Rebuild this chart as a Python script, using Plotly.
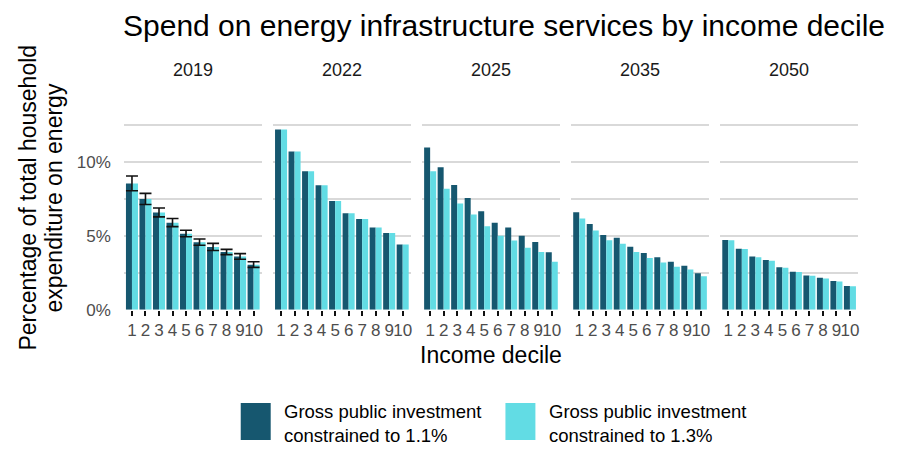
import plotly.graph_objects as go

# Household spend on energy infrastructure services, share of total energy expenditure (%)
years = ["2019", "2022", "2025", "2035", "2050"]
deciles = [1, 2, 3, 4, 5, 6, 7, 8, 9, 10]
decile_labels = ["1", "2", "3", "4", "5", "6", "7", "8", "9", "10"]

series_names = [
    "Gross public investment<br>constrained to 1.1%",
    "Gross public investment<br>constrained to 1.3%",
]

invest_11 = {
    "2019": [8.54, 7.50, 6.58, 5.89, 5.14, 4.57, 4.24, 3.91, 3.60, 3.05],
    "2022": [12.21, 10.71, 9.38, 8.43, 7.37, 6.53, 6.14, 5.56, 5.19, 4.42],
    "2025": [10.99, 9.65, 8.45, 7.57, 6.67, 5.89, 5.56, 5.01, 4.59, 3.89],
    "2035": [6.60, 5.81, 5.06, 4.88, 4.26, 3.84, 3.55, 3.25, 2.98, 2.47],
    "2050": [4.72, 4.13, 3.60, 3.36, 2.87, 2.58, 2.32, 2.16, 1.94, 1.61],
}
invest_13 = {
    "2019": [8.54, 7.50, 6.58, 5.89, 5.14, 4.57, 4.24, 3.91, 3.60, 3.05],
    "2022": [12.21, 10.71, 9.38, 8.43, 7.37, 6.53, 6.14, 5.56, 5.19, 4.42],
    "2025": [9.38, 8.19, 7.20, 6.45, 5.65, 5.01, 4.68, 4.19, 3.91, 3.25],
    "2035": [6.18, 5.36, 4.70, 4.46, 3.91, 3.51, 3.20, 2.91, 2.72, 2.27],
    "2050": [4.70, 4.11, 3.55, 3.31, 2.85, 2.56, 2.30, 2.12, 1.92, 1.59],
}

# 2019 uncertainty interval bounds (%)
err_low_2019 = [8.06, 7.13, 6.29, 5.63, 4.94, 4.37, 4.01, 3.73, 3.42, 2.87]
err_high_2019 = [9.05, 7.88, 6.89, 6.18, 5.38, 4.79, 4.49, 4.09, 3.80, 3.25]

y_tickvals = [0, 2.5, 5, 7.5, 10, 12.5]
y_ticktext = ["0%", "", "5%", "", "10%", ""]

colors = ["#16576F", "#62DCE4"]

W, H = 902, 455
FONT = "Liberation Sans, Arial, sans-serif"


def px_x(v):
    return v / W


def px_y(v):
    return 1 - v / H


panel_left = [124, 273.25, 422.5, 571.75, 721]
panel_w = 138
plot_top, plot_bottom = 123.1, 316.7
y_max = 12.82

fig = go.Figure()
layout_axes = {}

for i, yr in enumerate(years):
    n = "" if i == 0 else str(i + 1)
    xa, ya = "x" + n, "y" + n
    for s, (data, name) in enumerate([(invest_11, series_names[0]), (invest_13, series_names[1])]):
        fig.add_trace(go.Bar(
            x=deciles, y=data[yr], name=name, xaxis=xa, yaxis=ya,
            marker=dict(color=colors[s], line=dict(width=0)),
            offsetgroup=str(s), showlegend=False,
        ))
    if yr == "2019":
        mid = invest_11[yr]
        fig.add_trace(go.Scatter(
            x=deciles, y=mid, xaxis=xa, yaxis=ya, mode="markers",
            marker=dict(size=0.1, color="rgba(0,0,0,0)"),
            error_y=dict(
                type="data", symmetric=False,
                array=[h - m for h, m in zip(err_high_2019, mid)],
                arrayminus=[m - l for l, m in zip(err_low_2019, mid)],
                color="#111111", thickness=1.6, width=6,
            ),
            showlegend=False, hoverinfo="skip",
        ))

    dom_x = [px_x(panel_left[i]), px_x(panel_left[i] + panel_w)]
    layout_axes["xaxis" + n] = dict(
        domain=dom_x, anchor=ya, range=[0.4, 10.6],
        tickmode="array", tickvals=deciles, ticktext=decile_labels,
        tickangle=0, ticks="outside", ticklen=5, tickwidth=2, tickcolor="#111111",
        tickfont=dict(family=FONT, size=17, color="#4D4D4D"),
        showgrid=False, zeroline=False, showline=False, fixedrange=True,
    )
    layout_axes["yaxis" + n] = dict(
        domain=[px_y(plot_bottom), px_y(plot_top)], anchor=xa,
        range=[0, y_max], tickmode="array", tickvals=y_tickvals,
        ticktext=y_ticktext if i == 0 else [""] * len(y_tickvals),
        showticklabels=(i == 0), ticks="",
        tickfont=dict(family=FONT, size=17, color="#4D4D4D"),
        ticklabelstandoff=12,
        showgrid=True, gridcolor="#D9D9D9", gridwidth=1.6,
        zeroline=False, showline=False, fixedrange=True,
    )
    if i > 0:
        layout_axes["yaxis" + n]["matches"] = "y"

annotations = []
# facet strip labels
for i, yr in enumerate(years):
    annotations.append(dict(
        text=yr, x=px_x(panel_left[i] + panel_w / 2), y=px_y(72),
        xref="paper", yref="paper", showarrow=False,
        xanchor="center", yanchor="middle",
        font=dict(family=FONT, size=18, color="#1A1A1A"),
    ))

# title
annotations.append(dict(
    text="Spend on energy infrastructure services by income decile",
    x=px_x(121), y=px_y(26), xref="paper", yref="paper", showarrow=False,
    xanchor="left", yanchor="middle",
    font=dict(family=FONT, size=30, color="#000000"),
))

# axis titles
annotations.append(dict(
    text="Income decile", x=px_x(491.5), y=px_y(363),
    xref="paper", yref="paper", showarrow=False,
    xanchor="center", yanchor="middle",
    font=dict(family=FONT, size=23, color="#000000"),
))
for txt, cx in [("Percentage of total household", 28), ("expenditure on energy", 54)]:
    annotations.append(dict(
        text=txt, x=px_x(cx), y=px_y(202), textangle=-90,
        xref="paper", yref="paper", showarrow=False,
        xanchor="center", yanchor="middle",
        font=dict(family=FONT, size=23, color="#000000"),
    ))

# legend: colour keys with two-line labels
shapes = []
legend_keys = [(241, 271, 282), (506, 536, 548)]
for s, (x0, x1, tx) in enumerate(legend_keys):
    shapes.append(dict(
        type="rect", xref="paper", yref="paper",
        x0=px_x(x0), x1=px_x(x1), y0=px_y(450), y1=px_y(412),
        fillcolor=colors[s], line=dict(width=0),
    ))
    annotations.append(dict(
        text=series_names[s], x=px_x(tx), y=px_y(433),
        xref="paper", yref="paper", showarrow=False,
        xanchor="left", yanchor="middle", align="left",
        font=dict(family=FONT, size=18.5, color="#000000"),
    ))

fig.update_layout(
    width=W, height=H,
    margin=dict(l=0, r=0, t=0, b=0),
    paper_bgcolor="white", plot_bgcolor="white",
    barmode="group", bargap=0.11, bargroupgap=0,
    showlegend=False,
    annotations=annotations, shapes=shapes,
    **layout_axes,
)

fig.write_html("out.html")
